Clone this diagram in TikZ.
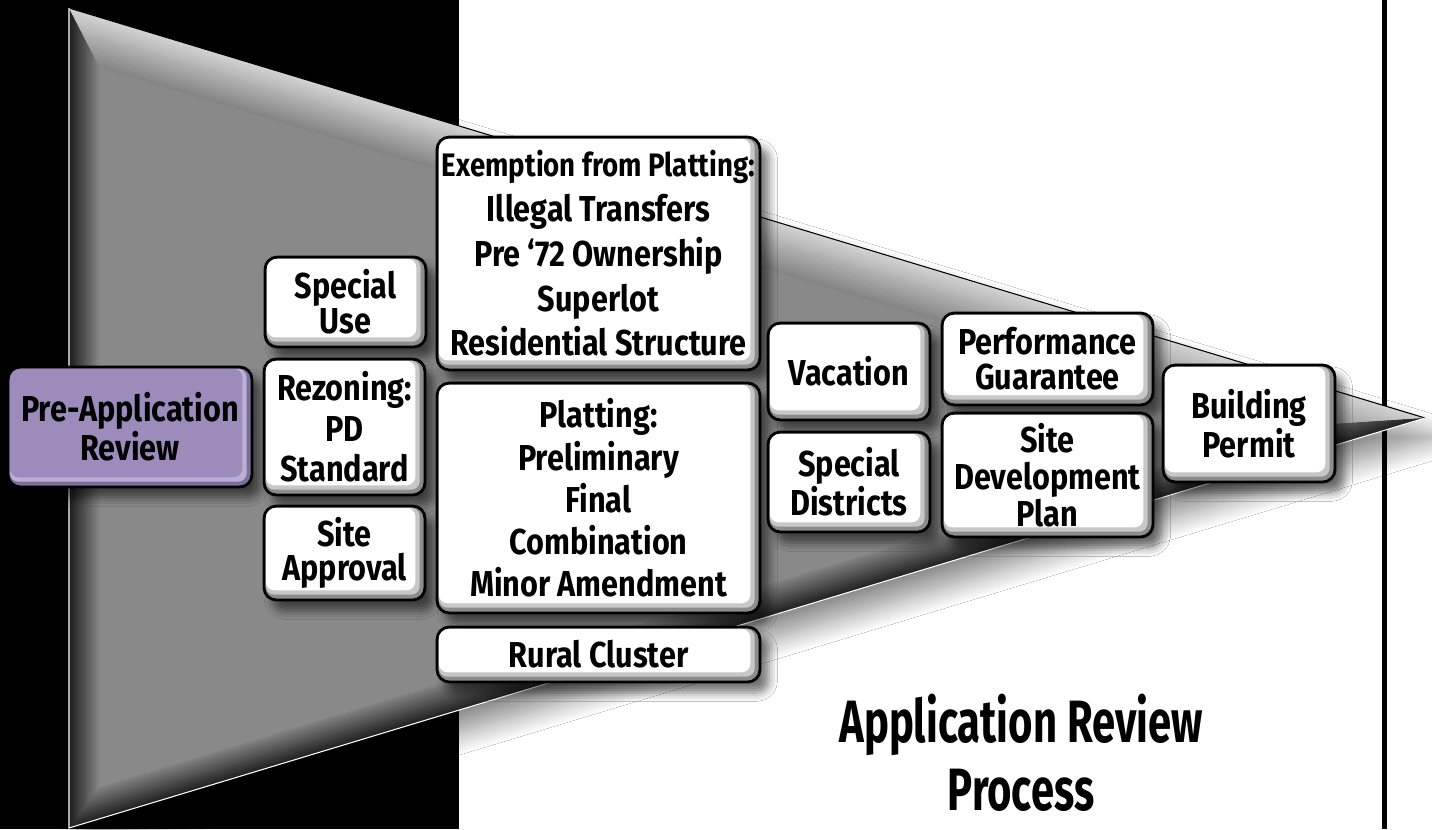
\documentclass[tikz,border=0pt]{standalone}
\usepackage{fontspec}
\setmainfont{Fira Sans}[FakeStretch=0.85]
\newfontfamily\titlefont{Fira Sans}[FakeStretch=0.7]
\usetikzlibrary{calc,shadows.blur}
\definecolor{facegray}{HTML}{898989}
\definecolor{prefill}{HTML}{9C8BBB}
\definecolor{prelight}{HTML}{BBAFD3}
\definecolor{predark}{HTML}{7E6E9C}
\tikzset{
  bevel/.style 2 args={path picture={
      \fill[#1, rounded corners=5pt] ([shift={(1pt,-1pt)}]path picture bounding box.north west)
        rectangle ([shift={(-3pt,3pt)}]path picture bounding box.south east);
      \fill[#2, rounded corners=5pt] ([shift={(1pt,-1pt)}]path picture bounding box.north west)
        rectangle ([shift={(-5.5pt,5.5pt)}]path picture bounding box.south east);}},
  box/.style={draw=black, line width=1.6pt, rounded corners=7pt, fill=black!45,
    bevel={black!22}{white}, align=center, inner sep=0pt,
    font=\bfseries\fontsize{20.5}{#1}\selectfont,
    blur shadow={shadow xshift=5pt, shadow yshift=-6pt, shadow blur radius=5pt, shadow opacity=55}},
  box/.default=21,
  prebox/.style={box=20.5, fill=predark, bevel={prelight}{prefill}},
  title/.style={align=center, font=\titlefont\bfseries\fontsize{34}{38.5}\selectfont},
}
\begin{document}
\begin{tikzpicture}[x=0.02cm, y=-0.02cm]
  \useasboundingbox (0,0) rectangle (1432,829);
  \fill[white] (0,0) rectangle (1432,829);
  \fill[black] (0,0) rectangle (459,829);
  \draw[line width=2.8pt] (1384.5,0) -- (1384.5,829);

  % funnel corners
  \coordinate (tl) at (69,8);
  \coordinate (tip) at (1425,418);
  \coordinate (bl) at (69,828);
  \coordinate (itl) at (100,68);
  \coordinate (iap) at (1288,427);
  \coordinate (ibl) at (100,787);

  \path[fill=black!50, blur shadow={shadow xshift=7pt, shadow yshift=-11pt, shadow blur radius=12pt, shadow blur steps=20, shadow opacity=45}]
    (tl) -- (tip) -- (bl) -- cycle;

  % bevels
  \foreach \i in {0,...,15} {
    \pgfmathsetmacro\t{\i/16}
    \pgfmathsetmacro\ctop{18+30*\i/15}
    \pgfmathsetmacro\cleft{88-40*\i/15}
    \pgfmathsetmacro\cbot{86-36*\i/15}
    \fill[black!\cleft] ($(tl)!\t!(itl)$) -- (itl) -- (ibl) -- ($(bl)!\t!(ibl)$) -- cycle;
    \fill[black!\ctop] ($(tl)!\t!(itl)$) -- (itl) -- (iap) -- ($(tip)!\t!(iap)$) -- cycle;
    \fill[black!\cbot] ($(bl)!\t!(ibl)$) -- (ibl) -- (iap) -- ($(tip)!\t!(iap)$) -- cycle;
  }
  \fill[facegray] (itl) -- (iap) -- (ibl) -- cycle;
  \draw[line width=0.6pt] (tl) -- (tip);
  \draw[white, line width=0.6pt] (tl) -- (bl) -- (tip);

  % boxes
  \node[prebox, minimum width=4.88cm, minimum height=2.4cm] (pre) at (130,427) {Pre-Application\\Review};
  \node[box=20, minimum width=3.22cm, minimum height=1.8cm] (use) at (345.5,302) {Special\\Use};
  \node[box=23, minimum width=3.22cm, minimum height=2.72cm] (rezone) at (344.5,427) {Rezoning:\\PD\\Standard};
  \node[box=19.5, minimum width=3.22cm, minimum height=1.88cm] (siteapp) at (344.5,553) {Site\\Approval};
  \node[box=25.5, minimum width=6.46cm, minimum height=4.66cm] (exempt) at (598.5,253.5)
    {{\fontsize{18.5}{25.5}\selectfont Exemption from Platting:}\\Illegal Transfers\\Pre ‘72 Ownership\\Superlot\\Residential Structure};
  \node[box=24, minimum width=6.46cm, minimum height=4.6cm] (plat) at (598.5,498)
    {Platting:\\Preliminary\\Final\\Combination\\Minor Amendment};
  \node[box, minimum width=6.46cm, minimum height=1.1cm] (rural) at (598.5,654.5) {Rural Cluster};
  \node[box, minimum width=3.24cm, minimum height=1.94cm] (vac) at (849,371.5) {Vacation};
  \node[box=20, minimum width=3.24cm, minimum height=2cm] (sdist) at (849,482) {Special\\Districts};
  \node[box=20, minimum width=4.22cm, minimum height=1.84cm] (perf) at (1047.5,359) {Performance\\Guarantee};
  \node[box=21, minimum width=4.22cm, minimum height=2.48cm] (sdp) at (1047.5,475) {Site\\Development\\Plan};
  \node[box=17, minimum width=3.44cm, minimum height=2.34cm] (bldg) at (1249,423.5) {Building\\Permit};

  \node[title] (caption) at (1021,753) {Application Review\\Process};
\end{tikzpicture}
\end{document}
